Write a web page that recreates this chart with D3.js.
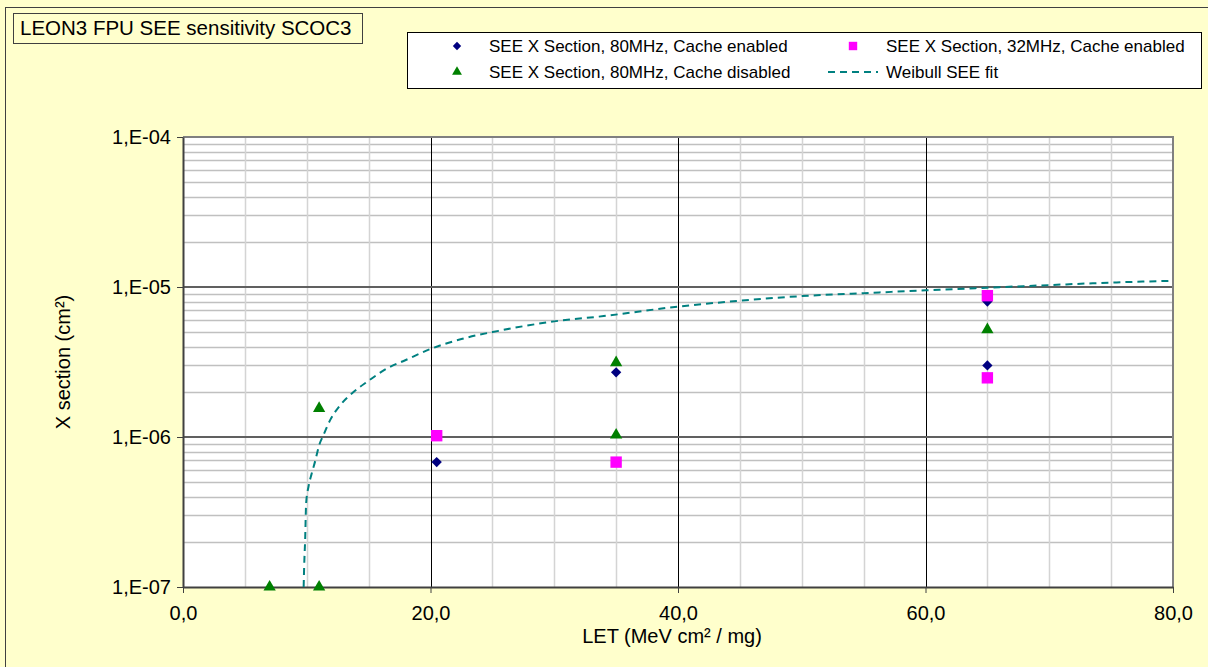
<!DOCTYPE html>
<html><head><meta charset="utf-8">
<script src="https://cdn.jsdelivr.net/npm/d3@7"></script>
<style>
html,body{margin:0;padding:0;background:#FFFFCC;}
svg{display:block;font-family:"Liberation Sans",Arial,sans-serif;}
</style></head>
<body>
<svg id="c" width="1208" height="667"></svg>
<script>
// ---- data ----
const titleText = "LEON3 FPU SEE sensitivity SCOC3";
const xTickValues = [0, 20, 40, 60, 80];
const yTickValues = [1e-7, 1e-6, 1e-5, 1e-4];
const seriesNames = ["SEE X Section, 80MHz, Cache enabled", "SEE X Section, 32MHz, Cache enabled", "SEE X Section, 80MHz, Cache disabled", "Weibull SEE fit"];
const enabled80LET = [20.5, 35, 65, 65];
const enabled80X = [6.8e-7, 2.7e-6, 8.0e-6, 3.0e-6];
const enabled32LET = [20.5, 35, 65, 65];
const enabled32X = [1.02e-6, 6.8e-7, 8.75e-6, 2.48e-6];
const disabled80LET = [7, 11, 11, 35, 35, 65];
const disabled80X = [1e-7, 1e-7, 1.55e-6, 3.13e-6, 1.03e-6, 5.2e-6];
const fitLET = [9.75, 9.79, 9.87, 9.95, 10.15, 10.4, 10.7, 11.0, 11.35, 11.9, 12.7, 13.8, 14.9, 16.5, 18.0, 20.0, 22.5, 25.5, 30, 34, 40, 45, 50, 55, 60, 65, 70, 75, 80];
const fitX = [1e-7, 1.36e-7, 2.06e-7, 3.6e-7, 4.7e-7, 5.7e-7, 7.0e-7, 8.8e-7, 1.03e-6, 1.30e-6, 1.63e-6, 2.0e-6, 2.34e-6, 2.87e-6, 3.26e-6, 3.86e-6, 4.5e-6, 5.1e-6, 5.9e-6, 6.4e-6, 7.4e-6, 8.1e-6, 8.7e-6, 9.1e-6, 9.5e-6, 9.9e-6, 1.03e-5, 1.07e-5, 1.10e-5];

// ---- layout ----
const L = 183, R = 1173, T = 137, B = 587;
const svg = d3.select("#c");
const x = d3.scaleLinear().domain([0, 80]).range([L, R]);
const y = d3.scaleLog().domain([1e-7, 1e-4]).range([B, T]);

// outer chart border
svg.append("rect").attr("x", 5.5).attr("y", 7.5).attr("width", 1220).attr("height", 680)
  .attr("fill", "#FFFFCC").attr("stroke", "#404040").attr("stroke-width", 1);

// plot area
svg.append("rect").attr("x", L).attr("y", T).attr("width", R - L).attr("height", B - T).attr("fill", "#fff");

const g = svg.append("g");
// minor horizontal gridlines
const minorY = [];
[1e-7, 1e-6, 1e-5].forEach(d => { for (let k = 2; k <= 9; k++) minorY.push(d * k); });
g.selectAll(".hmin").data(minorY).enter().append("line")
  .attr("x1", L).attr("x2", R).attr("y1", d => Math.round(y(d)) + 0.5).attr("y2", d => Math.round(y(d)) + 0.5)
  .attr("stroke", "#c0c0c0").attr("stroke-width", 1.5);
// minor vertical gridlines
const minorX = d3.range(5, 80, 5).filter(v => v % 20 !== 0);
g.selectAll(".vmin").data(minorX).enter().append("line")
  .attr("y1", T).attr("y2", B).attr("x1", d => Math.round(x(d)) + 0.5).attr("x2", d => Math.round(x(d)) + 0.5)
  .attr("stroke", "#d4d4d4").attr("stroke-width", 1.5);
// major vertical
g.selectAll(".vmaj").data([20, 40, 60]).enter().append("line")
  .attr("y1", T).attr("y2", B).attr("x1", d => Math.round(x(d)) + 0.5).attr("x2", d => Math.round(x(d)) + 0.5)
  .attr("stroke", "#000").attr("stroke-width", 1);
// major horizontal
g.selectAll(".hmaj").data([1e-6, 1e-5]).enter().append("line")
  .attr("x1", L).attr("x2", R).attr("y1", d => y(d)).attr("y2", d => y(d))
  .attr("stroke", "#606060").attr("stroke-width", 2);

// plot border (top/right gray)
svg.append("path").attr("d", `M${L},${T}H${R}V${B}`).attr("fill", "none").attr("stroke", "#808080").attr("stroke-width", 2);

// axes
const xAxis = d3.axisBottom(x).tickValues(xTickValues).tickSize(6).tickSizeOuter(0)
  .tickFormat(d => d3.format(".1f")(d).replace(".", ","));
const gx = svg.append("g").attr("transform", `translate(0,${B})`).call(xAxis);
gx.select(".domain").attr("stroke", "#404040").attr("stroke-width", 2);
gx.selectAll(".tick line").attr("stroke", "#404040");
gx.selectAll(".tick text").attr("font-size", 20).attr("fill", "#000").attr("font-family", "Liberation Sans, Arial, sans-serif").attr("dy", "1.2em");

const yAxis = d3.axisLeft(y).tickValues(yTickValues).tickSize(6).tickSizeOuter(0)
  .tickFormat(d => "1,E-" + String(-Math.round(Math.log10(d))).padStart(2, "0"));
const gy = svg.append("g").attr("transform", `translate(${L},0)`).call(yAxis);
gy.select(".domain").attr("stroke", "#404040").attr("stroke-width", 2);
gy.selectAll(".tick line").attr("stroke", "#404040");
gy.selectAll(".tick text").attr("font-size", 20).attr("fill", "#000").attr("font-family", "Liberation Sans, Arial, sans-serif").attr("x", -12);

// axis titles
svg.append("text").attr("x", 672).attr("y", 643).attr("text-anchor", "middle").attr("font-size", 20).text("LET (MeV cm² / mg)");
svg.append("text").attr("transform", `translate(70,${(T + B) / 2}) rotate(-90)`).attr("text-anchor", "middle").attr("font-size", 20).text("X section (cm²)");

// title box
svg.append("rect").attr("x", 13.5).attr("y", 13.5).attr("width", 349).attr("height", 30)
  .attr("fill", "#FFFFCC").attr("stroke", "#404040").attr("stroke-width", 1);
svg.append("text").attr("x", 20).attr("y", 35).attr("font-size", 20.5).text(titleText);

// symbols
const diamond = d3.symbol().type(d3.symbolDiamond2).size(68);
const square = d3.symbol().type(d3.symbolSquare2).size(165);
const triangle = d3.symbol().type(d3.symbolTriangle2).size(108);

// fit line
const line = d3.line().x(d => x(d[0])).y(d => y(d[1])).curve(d3.curveMonotoneX);
svg.append("path").datum(fitLET.map((v, i) => [v, fitX[i]])).attr("d", line)
  .attr("fill", "none").attr("stroke", "#008080").attr("stroke-width", 2).attr("stroke-dasharray", "7,5");

function drawPts(lets, vals, sym, color, cls) {
  svg.selectAll("." + cls).data(lets.map((v, i) => [v, vals[i]])).enter().append("path")
    .attr("class", cls)
    .attr("transform", d => `translate(${x(d[0])},${y(d[1])})`)
    .attr("d", sym).attr("fill", color);
}
drawPts(enabled80LET, enabled80X, diamond, "#000080", "s1");
drawPts(enabled32LET, enabled32X, square, "#FF00FF", "s2");
drawPts(disabled80LET, disabled80X, triangle, "#008000", "s3");

// legend
svg.append("rect").attr("x", 407.5).attr("y", 32.5).attr("width", 794).attr("height", 56)
  .attr("fill", "#fff").attr("stroke", "#000").attr("stroke-width", 1);
const legendItems = [
  {sym: d3.symbol().type(d3.symbolDiamond2).size(45), color: "#000080", mx: 457, tx: 489, y: 46},
  {sym: d3.symbol().type(d3.symbolSquare2).size(90), color: "#FF00FF", mx: 853, tx: 886, y: 46},
  {sym: d3.symbol().type(d3.symbolTriangle2).size(70), color: "#008000", mx: 457, tx: 489, y: 72},
  {sym: null, color: "#008080", mx: 853, tx: 886, y: 72}
];
legendItems.forEach((it, i) => {
  if (it.sym) {
    svg.append("path").attr("transform", `translate(${it.mx},${it.y})`).attr("d", it.sym).attr("fill", it.color);
  } else {
    svg.append("line").attr("x1", 828).attr("x2", 878).attr("y1", it.y).attr("y2", it.y)
      .attr("stroke", it.color).attr("stroke-width", 2).attr("stroke-dasharray", "7,5");
  }
  svg.append("text").attr("x", it.tx).attr("y", it.y + 6).attr("font-size", 17).text(seriesNames[i]);
});
</script>
</body></html>
